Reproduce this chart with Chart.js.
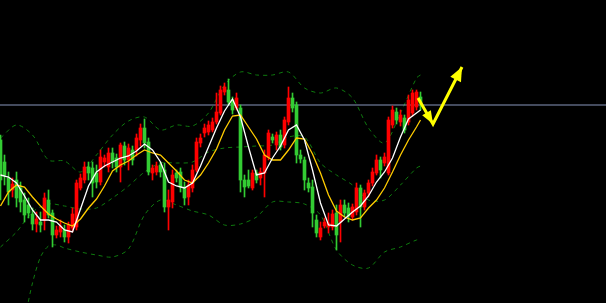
<!DOCTYPE html>
<html>
<head>
<meta charset="utf-8">
<script src="https://cdn.jsdelivr.net/npm/chart.js@4"></script>
<style>
  html, body { margin: 0; padding: 0; background: #000; }
  #wrap { width: 606px; height: 303px; position: relative; }
</style>
</head>
<body>
<div id="wrap"><canvas id="kline"></canvas></div>
<script>
// ── Candles (one per bar, price units) ─────────────────────
const opens = [163,141,125,113,123,115,103,98,89,79,81,83,103,90,68,71,73,66,75,76,
  115,123,136,135,130,121,141,136,150,145,136,157,143,153,153,163,175,161,130,131,
  138,133,96,101,130,131,116,106,115,133,160,170,171,173,181,190,211,213,203,195,
  195,123,123,115,130,125,130,146,166,158,168,158,181,205,198,148,143,120,116,83,
  66,77,76,76,90,81,98,95,86,91,115,96,110,120,130,143,140,130,178,191,
  181,185,181,190,196,206];
const highs = [168,148,131,125,131,121,110,105,95,91,91,110,113,93,77,83,78,81,95,123,
  129,141,141,141,138,153,148,155,155,149,160,161,159,157,169,179,184,165,138,141,
  141,140,113,133,133,135,121,123,138,165,169,179,182,185,210,217,220,224,206,210,
  198,128,133,133,133,135,153,173,169,171,173,186,216,210,201,153,146,125,123,88,
  81,85,90,93,98,103,103,100,99,120,118,113,123,135,148,146,150,186,197,195,
  193,188,208,213,213,211];
const lows = [103,118,98,106,96,91,81,85,73,71,71,73,85,56,65,66,61,60,71,73,
  113,120,123,106,115,118,136,131,135,131,121,138,133,138,147,157,155,128,123,128,
  126,91,73,95,121,111,98,98,111,131,156,166,168,171,179,188,208,198,189,193,
  111,106,115,113,120,118,106,143,160,153,153,155,178,191,140,140,113,111,76,66,
  63,75,70,73,53,61,86,81,83,88,76,93,106,117,128,125,137,128,175,179,
  177,170,178,187,193,193];
const closes = [123,128,111,119,105,101,88,90,79,84,78,105,88,68,73,77,66,78,89,120,
  125,136,130,120,121,146,145,150,141,136,158,143,155,143,165,175,160,131,135,137,
  131,96,103,128,125,116,105,118,133,161,165,175,178,181,191,213,216,201,193,205,
  123,116,117,130,123,131,148,170,163,168,156,183,205,195,148,144,123,115,90,70,
  75,81,80,89,68,98,90,87,96,115,96,110,120,131,143,133,146,183,193,183,
  188,173,203,210,211,200];

// ── Moving averages, sampled every two bars ────────────────
const maIdx = [0,2,4,6,8,10,12,14,16,18,20,22,24,26,28,30,32,34,36,38,40,42,44,46,48,50,
  52,54,56,58,60,62,64,66,68,70,72,74,76,78,80,82,84,86,88,90,92,94,96,98,100,102,104,105];
const maWhite = [128,126,120,107,93,83,83,81,73,71,94,117,131,137,141,145,147,152,159,153,
  141,121,117,115,120,137,156,175,192,204,186,156,128,130,145,157,173,178,163,133,
  100,78,77,84,91,97,107,121,131,145,166,184,190,193];
const maYellow = [97,111,118,116,106,97,89,84,80,77,84,95,104,117,132,138,142,148,153,150,
  148,140,132,123,120,128,140,154,173,187,188,176,164,148,143,143,153,165,164,149,
  130,108,92,86,83,85,95,103,115,131,148,163,176,183];

// ── Bollinger bands, sampled every four bars ───────────────
const bandIdx = [0,4,8,12,16,20,24,28,32,36,40,44,48,52,56,60,64,68,72,76,80,84,88,92,96,100,104,105];
const bandUpper = [165,178,168,143,142,131,148,168,182,186,173,178,177,190,218,231,228,228,231,215,
  210,215,205,175,160,190,225,228];
const bandMid = [56,71,91,99,97,94,95,105,117,131,140,140,141,151,155,156,157,158,166,166,
  140,128,118,103,103,118,135,137];
const lowIdx = [4,6,8,10,12,14,16,20,24,28,32,36,40,44,48,52,56,60,64,68,72,76,80,84,88,92,96,100,104,105];
const bandLower = [-37,-15,20,46,57,58,55,51,48,46,54,88,103,98,92,88,78,79,86,101,101,99,88,53,38,35,51,56,63,63];

// ── Reference level and hand-drawn arrow ───────────────────
const refLevel = 198;
const arrowIdx = [104.375, 108.125, 115.375];
const arrowVal = [205, 179, 236];

// ── Colours ────────────────────────────────────────────────
const UP = '#ff0000';
const DOWN = '#33cc33';
const BAND = '#0e7a0e';
const ARROW = '#ffff00';

const X_MIN = -0.125;
const X_MAX = X_MIN + 606 / 4;

const pts = (idx, vals) => idx.map((x, i) => ({ x, y: vals[i] }));
const colourOf = (i) => closes[i] >= opens[i] ? UP : DOWN;

const bodyData = opens.map((o, i) => ({ x: i, y: [o, closes[i]] }));
const wickData = highs.map((h, i) => ({ x: i, y: [lows[i], h] }));
const barColours = opens.map((o, i) => colourOf(i));

// ── Arrowheads ─────────────────────────────────────────────
function head(ctx, x0, y0, x1, y1, len, half) {
  const a = Math.atan2(y1 - y0, x1 - x0);
  ctx.beginPath();
  ctx.moveTo(x1, y1);
  ctx.lineTo(x1 - len * Math.cos(a) + half * Math.sin(a), y1 - len * Math.sin(a) - half * Math.cos(a));
  ctx.lineTo(x1 - len * Math.cos(a) - half * Math.sin(a), y1 - len * Math.sin(a) + half * Math.cos(a));
  ctx.closePath();
  ctx.fill();
}

const arrowHeads = {
  id: 'arrowHeads',
  afterDatasetsDraw(chart) {
    const { ctx, scales: { x, y } } = chart;
    const px = arrowIdx.map(v => x.getPixelForValue(v));
    const py = arrowVal.map(v => y.getPixelForValue(v));
    ctx.save();
    ctx.fillStyle = ARROW;
    head(ctx, px[0], py[0], px[1], py[1], 13, 5);
    head(ctx, px[1], py[1], px[2], py[2], 14, 6);
    ctx.restore();
  }
};

// ── Chart ──────────────────────────────────────────────────
const lineDs = (data, colour, order, extra) => Object.assign({
  type: 'line', data, borderColor: colour, borderWidth: 1.3,
  pointRadius: 0, tension: 0, fill: false, order
}, extra || {});

new Chart(document.getElementById('kline'), {
  type: 'bar',
  data: {
    datasets: [
      lineDs(pts(bandIdx, bandUpper), BAND, 10, { borderDash: [4, 4], tension: 0.3, borderWidth: 1 }),
      lineDs(pts(bandIdx, bandMid), BAND, 10, { borderDash: [4, 4], tension: 0.3, borderWidth: 1 }),
      lineDs(pts(lowIdx, bandLower), BAND, 10, { borderDash: [4, 4], tension: 0.3, borderWidth: 1 }),
      lineDs([{ x: X_MIN, y: refLevel }, { x: X_MAX, y: refLevel }], '#8896bc', 9, { borderWidth: 1 }),
      { type: 'bar', data: wickData, backgroundColor: barColours, barThickness: 1,
        grouped: false, borderWidth: 0, order: 5 },
      { type: 'bar', data: bodyData, backgroundColor: barColours, barThickness: 3,
        grouped: false, borderWidth: 0, minBarLength: 1, order: 4 },
      lineDs(pts(maIdx, maYellow), '#ffcc00', 3),
      lineDs(pts(maIdx, maWhite), '#ffffff', 2),
      lineDs(pts(arrowIdx, arrowVal), ARROW, 1, { borderWidth: 3 }),
    ]
  },
  options: {
    responsive: true,
    maintainAspectRatio: false,
    animation: false,
    layout: { padding: 0 },
    plugins: { legend: { display: false }, tooltip: { enabled: false } },
    scales: {
      x: { type: 'linear', min: X_MIN, max: X_MAX, display: false, offset: false },
      y: { min: 0, max: 303, display: false }
    }
  },
  plugins: [arrowHeads]
});
</script>
</body>
</html>
